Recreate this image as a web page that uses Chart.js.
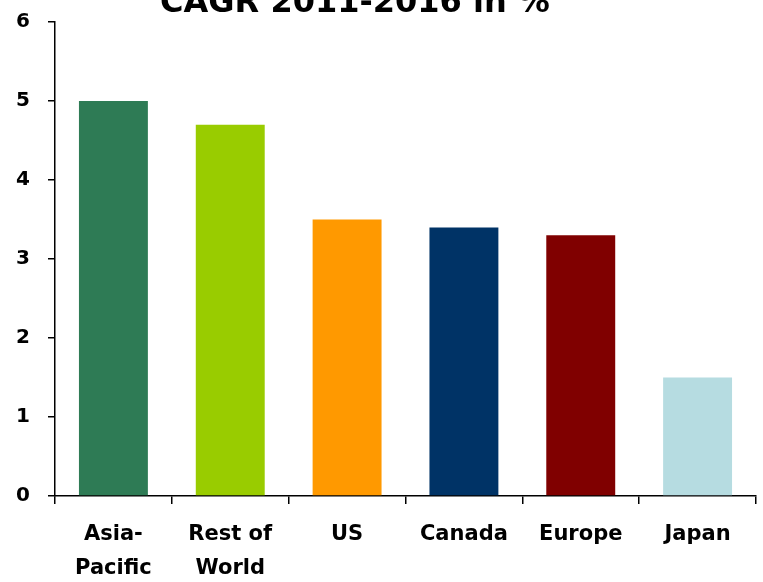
<!DOCTYPE html>
<html>
<head>
<meta charset="utf-8">
<script src="https://cdn.jsdelivr.net/npm/chart.js@4.4.1/dist/chart.umd.min.js"></script>
<style>
  html, body { margin: 0; padding: 0; background: #fff; }
  #wrap { width: 763px; height: 582px; position: relative; }
</style>
</head>
<body>
<div id="wrap"><canvas id="cagrChart"></canvas></div>
<script>
const regions = [["Asia-", "Pacific"], ["Rest of", "World"], "US", "Canada", "Europe", "Japan"];
const cagrValues = [5.0, 4.7, 3.5, 3.4, 3.3, 1.5];
const barColors = ["#2e7b55", "#99cc00", "#ff9900", "#003366", "#800000", "#b6dce1"];
const titleText = "CAGR 2011-2016 in %";

const FONT = "'DejaVu Sans', sans-serif";

// title sits half off the top edge, drawn by hand so it can be clipped
const topTitle = {
  id: "topTitle",
  afterDraw(chart) {
    const ctx = chart.ctx;
    ctx.save();
    ctx.font = "bold 32px " + FONT;
    ctx.fillStyle = "#000";
    ctx.textAlign = "center";
    ctx.textBaseline = "alphabetic";
    ctx.fillText(titleText, 355, 12);
    ctx.restore();
  }
};

new Chart(document.getElementById("cagrChart"), {
  type: "bar",
  data: {
    labels: regions,
    datasets: [{
      data: cagrValues,
      backgroundColor: barColors,
      borderWidth: 0,
      barPercentage: 0.59,
      categoryPercentage: 1.0
    }]
  },
  options: {
    responsive: true,
    maintainAspectRatio: false,
    animation: false,
    layout: { padding: { top: 22, right: 7, left: 0, bottom: 0 } },
    plugins: {
      legend: { display: false },
      tooltip: { enabled: false }
    },
    scales: {
      x: {
        grid: {
          offset: true,
          drawOnChartArea: false,
          drawTicks: true,
          tickLength: 8,
          color: "#000",
          lineWidth: 1.5
        },
        border: { color: "#000", width: 1.5 },
        ticks: {
          color: "#000",
          font: { family: FONT, size: 21, weight: "bold", lineHeight: 1.65 },
          padding: 13,
          maxRotation: 0,
          autoSkip: false
        },
        afterFit(scale) { scale.height = 86; }
      },
      y: {
        min: 0,
        max: 6,
        grid: {
          drawOnChartArea: false,
          drawTicks: true,
          tickLength: 7,
          color: "#000",
          lineWidth: 1.5
        },
        border: { color: "#000", width: 1.5 },
        ticks: {
          stepSize: 1,
          color: "#000",
          font: { family: FONT, size: 20, weight: "bold" },
          padding: 18
        },
        afterFit(scale) {
          scale.width = 55;
          scale.paddingTop = 0;
          scale.paddingBottom = 0;
        }
      }
    }
  },
  plugins: [topTitle]
});
</script>
</body>
</html>
